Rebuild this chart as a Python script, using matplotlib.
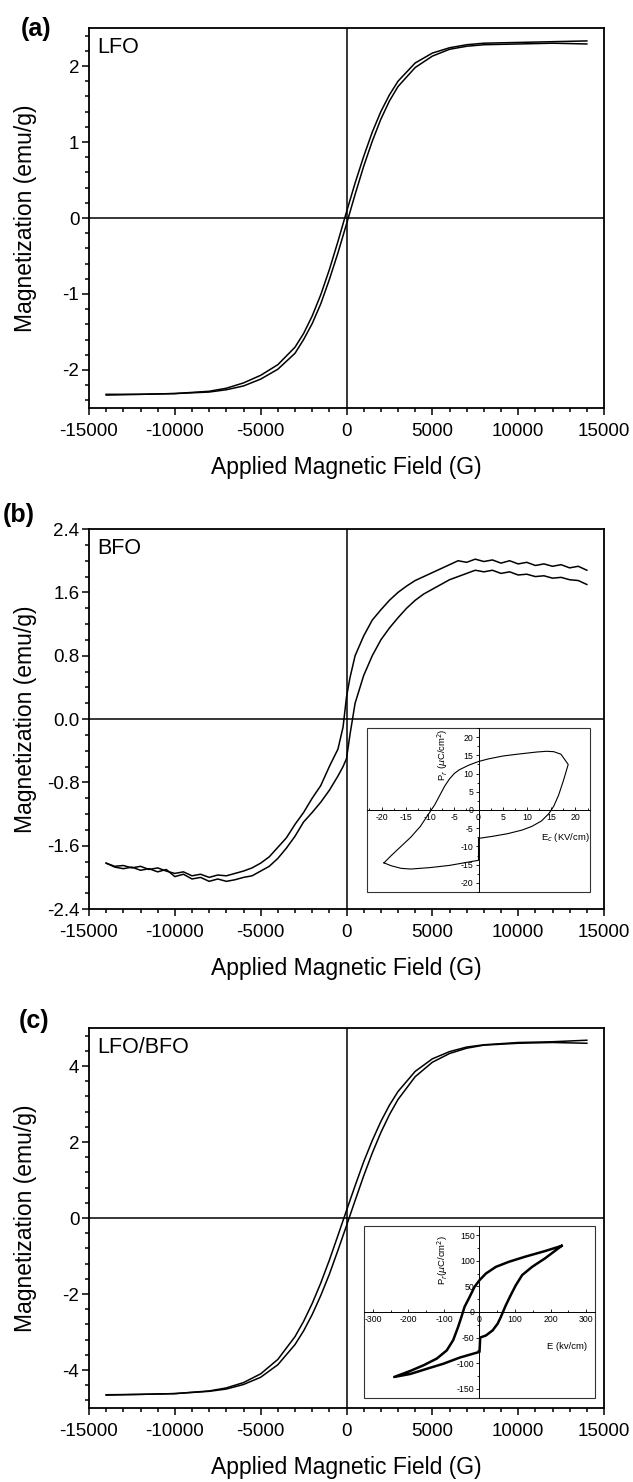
import matplotlib
matplotlib.use('Agg')
import matplotlib.pyplot as plt
from matplotlib.ticker import MultipleLocator, FormatStrFormatter
from matplotlib.patches import Rectangle

plt.rcParams['font.family'] = ['Liberation Sans', 'DejaVu Sans']
plt.rcParams['axes.unicode_minus'] = False

# ---- data ----
# (a) LFO
field_a = [-14000, -12000, -10000, -8000, -7000, -6000, -5000, -4000, -3000, -2500, -2000,
           -1500, -1000, -500, 0, 500, 1000, 1500, 2000, 2500, 3000, 4000, 5000, 6000,
           7000, 8000, 10000, 12000, 14000]
m_a_down = [-2.32, -2.32, -2.31, -2.28, -2.24, -2.17, -2.07, -1.93, -1.70, -1.52, -1.29,
            -1.01, -0.68, -0.31, 0.08, 0.46, 0.81, 1.13, 1.40, 1.62, 1.80, 2.04, 2.17, 2.24,
            2.28, 2.30, 2.31, 2.32, 2.33]
m_a_up = [-2.33, -2.32, -2.31, -2.29, -2.26, -2.21, -2.12, -1.99, -1.78, -1.60, -1.39,
          -1.13, -0.81, -0.46, -0.08, 0.31, 0.68, 1.01, 1.30, 1.54, 1.73, 1.98, 2.13, 2.22,
          2.26, 2.28, 2.29, 2.30, 2.29]

# (b) BFO
field_b = [-14000, -13500, -13000, -12500, -12000, -11500, -11000, -10500, -10000, -9500,
           -9000, -8500, -8000, -7500, -7000, -6500, -6000, -5500, -5000, -4500, -4000,
           -3500, -3000, -2500, -2000, -1500, -1000, -500, -200, 0, 200, 500, 1000, 1500,
           2000, 2500, 3000, 3500, 4000, 4500, 5000, 5500, 6000, 6500, 7000, 7500, 8000,
           8500, 9000, 9500, 10000, 10500, 11000, 11500, 12000, 12500, 13000, 13500, 14000]
m_b_down = [-1.82, -1.86, -1.85, -1.88, -1.86, -1.90, -1.88, -1.92, -1.95, -1.93, -1.98,
            -1.96, -2.00, -1.97, -1.98, -1.95, -1.92, -1.88, -1.82, -1.74, -1.62, -1.50,
            -1.33, -1.18, -1.00, -0.84, -0.60, -0.38, -0.10, 0.28, 0.52, 0.80, 1.05, 1.25,
            1.38, 1.50, 1.60, 1.68, 1.75, 1.80, 1.85, 1.90, 1.95, 2.00, 1.98, 2.02, 1.99,
            2.01, 1.97, 2.00, 1.96, 1.98, 1.94, 1.96, 1.93, 1.95, 1.91, 1.93, 1.88]
m_b_up = [-1.82, -1.87, -1.89, -1.87, -1.91, -1.89, -1.93, -1.90, -1.99, -1.96, -2.02,
          -2.00, -2.05, -2.02, -2.05, -2.03, -2.00, -1.98, -1.92, -1.86, -1.76, -1.63,
          -1.48, -1.30, -1.18, -1.05, -0.90, -0.72, -0.60, -0.50, -0.20, 0.20, 0.55, 0.80,
          1.00, 1.15, 1.28, 1.40, 1.50, 1.58, 1.64, 1.70, 1.76, 1.80, 1.84, 1.88, 1.86,
          1.88, 1.84, 1.86, 1.82, 1.83, 1.80, 1.81, 1.78, 1.79, 1.76, 1.75, 1.70]

# (b) inset: P-E loop of BFO
e_b = [-19.5, -18, -16, -14, -12, -10, -9, -8, -7, -6, -5, -4, -2, 0, 2, 5, 8, 10, 12, 14,
       15.5, 17, 18.5, 17.5, 16.5, 15.5, 14.5, 13, 11, 9, 6, 3, 0, 0, -3, -6, -10, -14,
       -16, -18, -19.5]
p_b = [-14.5, -12.5, -10, -7.5, -4.5, -0.5, 1.5, 4, 6.5, 8.5, 10, 11, 12.3, 13.3, 14,
       14.8, 15.3, 15.6, 15.9, 16.1, 16.0, 15.3, 12.5, 8, 4, 1, -1, -3, -4.5, -5.5, -6.5,
       -7.2, -7.8, -13.8, -14.5, -15.2, -15.8, -16.2, -16.0, -15.3, -14.5]

# (c) LFO/BFO
field_c = field_a
m_c_down = [-4.65, -4.64, -4.62, -4.55, -4.47, -4.33, -4.10, -3.72, -3.12, -2.72, -2.25,
            -1.71, -1.11, -0.46, 0.20, 0.85, 1.48, 2.04, 2.54, 2.97, 3.33, 3.86, 4.19, 4.38,
            4.50, 4.56, 4.62, 4.64, 4.68]
m_c_up = [-4.66, -4.64, -4.62, -4.56, -4.50, -4.38, -4.19, -3.86, -3.33, -2.97, -2.54,
          -2.04, -1.48, -0.85, -0.20, 0.46, 1.11, 1.71, 2.25, 2.72, 3.12, 3.72, 4.10, 4.33,
          4.47, 4.55, 4.60, 4.62, 4.60]

# (c) inset: P-E loop of LFO/BFO
e_c = [231, 185, 129, 83, 46, 18, 0, -14, -28, -42, -51, -60, -74, -92, -120, -157, -194,
       -240, -194, -148, -101, -55, 0, 2, 18, 37, 51, 60, 66, 74, 88, 102, 120, 148, 185, 231]
p_c = [129, 119, 108, 98, 88, 75, 62, 49, 29, 10, -10, -29, -55, -75, -91, -104, -115,
       -127, -121, -111, -101, -89, -78, -50, -46, -36, -23, -10, 0, 13, 33, 52, 72, 88, 105, 129]

panel_letters = ['(a)', '(b)', '(c)']
sample_names = ['LFO', 'BFO', 'LFO/BFO']

fig = plt.figure(figsize=(6.33, 14.82), dpi=100)

bottoms = [0.7247, 0.3866, 0.0499]
letter_pos = [(0.033, 0.9804), (0.004, 0.6525), (0.030, 0.3111)]
fields = [(field_a, m_a_down, m_a_up), (field_b, m_b_down, m_b_up), (field_c, m_c_down, m_c_up)]
ylims = [(-2.5, 2.5), (-2.4, 2.4), (-5, 5)]
ymaj = [1, 0.8, 2]
ymin = [0.2, 0.2, 0.4]
yfmt = ['%g', '%.1f', '%g']

for i in range(3):
    ax = fig.add_axes([0.1406, bottoms[i], 0.8136, 0.2564])
    h, md, mu = fields[i]
    ax.plot(h, md, color='black', lw=1.1)
    ax.plot(h, mu, color='black', lw=1.1)
    ax.axhline(0, color='black', lw=1.1)
    ax.axvline(0, color='black', lw=1.1)
    ax.set_xlim(-15000, 15000)
    ax.set_ylim(*ylims[i])
    ax.xaxis.set_major_locator(MultipleLocator(5000))
    ax.xaxis.set_minor_locator(MultipleLocator(1000))
    ax.yaxis.set_major_locator(MultipleLocator(ymaj[i]))
    ax.yaxis.set_minor_locator(MultipleLocator(ymin[i]))
    ax.yaxis.set_major_formatter(FormatStrFormatter(yfmt[i]))
    ax.tick_params(which='both', direction='out', width=1.1, labelsize=13.5)
    ax.tick_params(which='major', length=5)
    ax.tick_params(which='minor', length=3)
    ax.tick_params(axis='x', pad=6)
    ax.tick_params(axis='y', pad=2)
    for s in ax.spines.values():
        s.set_linewidth(1.3)
    ax.set_xlabel('Applied Magnetic Field (G)', fontsize=16.5)
    ax.set_ylabel('Magnetization (emu/g)', fontsize=16.5)
    ax.xaxis.set_label_coords(0.5, -0.127)
    ax.yaxis.set_label_coords(-0.10, 0.5)
    ax.text(0.0155, 0.934, sample_names[i], transform=ax.transAxes, fontsize=15.5,
            va='baseline', ha='left')
    fig.text(letter_pos[i][0], letter_pos[i][1], panel_letters[i], fontsize=18,
             fontweight='bold', va='center', ha='left')


def inset(rect, e, p, xl, yl, xmaj, xmin, ymj, ymn, xlab, xlab_xy, ylab, ylab_xy, lw):
    ins = fig.add_axes(rect)
    ins.plot(e, p, color='black', lw=lw)
    ins.set_xlim(*xl)
    ins.set_ylim(*yl)
    ins.spines['left'].set_position('zero')
    ins.spines['bottom'].set_position('zero')
    ins.spines['top'].set_visible(False)
    ins.spines['right'].set_visible(False)
    for s in ['left', 'bottom']:
        ins.spines[s].set_linewidth(0.7)
    ins.add_patch(Rectangle((0, 0), 1, 1, transform=ins.transAxes, fill=False,
                            lw=0.8, edgecolor='#333333', clip_on=False))
    ins.xaxis.set_major_locator(MultipleLocator(xmaj))
    ins.xaxis.set_minor_locator(MultipleLocator(xmin))
    ins.yaxis.set_major_locator(MultipleLocator(ymj))
    ins.yaxis.set_minor_locator(MultipleLocator(ymn))
    ins.tick_params(axis='x', which='both', direction='in', labelsize=6.3, pad=2, width=0.6)
    ins.tick_params(axis='y', which='both', direction='out', labelsize=6.3, pad=1, width=0.6)
    ins.tick_params(which='major', length=2.5)
    ins.tick_params(which='minor', length=1.5)
    ins.text(xlab_xy[0], xlab_xy[1], xlab, transform=ins.transAxes, fontsize=6.8,
             ha='center', va='center')
    ins.text(ylab_xy[0], ylab_xy[1], ylab, transform=ins.transAxes, fontsize=6.8,
             ha='center', va='center', rotation=90)
    ins.patch.set_facecolor('white')
    return ins


inset([0.5798, 0.3981, 0.3523, 0.1107], e_b, p_b, (-23, 23), (-22.5, 22.5),
      5, 2.5, 5, 2.5, r'E$_c$ (KV/cm)', (0.89, 0.33),
      r'P$_r$ ($\mu$C/cm$^2$)', (0.34, 0.84), 0.8)
inset([0.575, 0.0567, 0.365, 0.1161], e_c, p_c, (-325, 325), (-168, 168),
      100, 50, 50, 25, 'E (kv/cm)', (0.88, 0.30),
      r'P$_r$($\mu$C/cm$^2$)', (0.34, 0.80), 1.8)

fig.savefig('out.png', dpi=100)
